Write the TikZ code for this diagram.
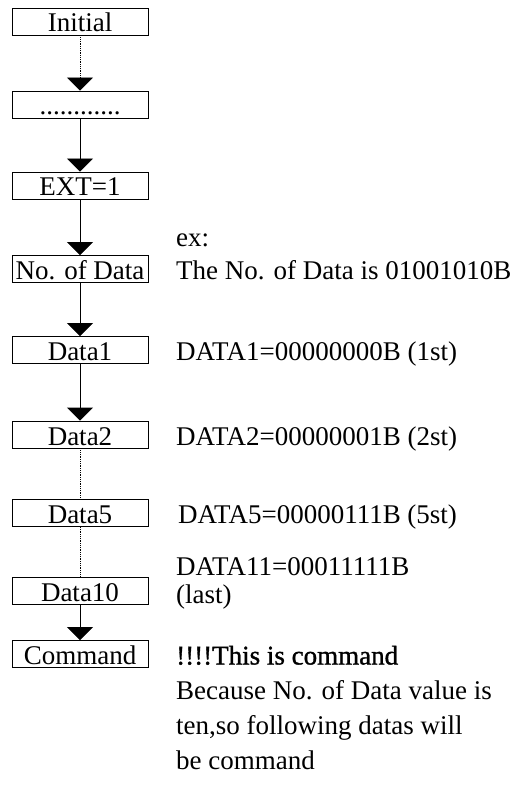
\documentclass[tikz,border=0pt]{standalone}
\usepackage{fontspec}
\setmainfont{Liberation Serif}
\newfontfamily\heavyserif[FakeBold=1.2]{Liberation Serif}
\usetikzlibrary{arrows}
\usetikzlibrary{arrows.meta}

\newcommand{\dotrow}{............}

\begin{document}
\begin{tikzpicture}[x=1pt,y=-1pt,
  box/.style={draw,line width=0.8pt,minimum width=136pt,minimum height=27pt,
    inner sep=0pt,text height=21pt,text depth=0pt,font=\fontsize{27}{27}\selectfont},
  note/.style={anchor=base west,inner sep=0pt,font=\fontsize{27}{27}\selectfont},
  flow/.style={line width=0.8pt,-{Triangle[width=26pt,length=13pt]}},
  gap/.style={line width=0.8pt,densely dotted}]
\useasboundingbox (0,0) rectangle (512,799);

\foreach \name/\y/\txt in {init/21.5/Initial, dots/104.5/\dotrow, ext/185.5/EXT=1,
    num/269/No. of Data, data1/350/Data1, data2/434.5/Data2, data5/513/Data5,
    data10/591/Data10, cmd/654/Command}
  \node[box] (\name) at (80,\y) {\txt};

\draw[flow,densely dotted] (init) -- (dots);
\foreach \a/\b in {dots/ext, ext/num, num/data1, data1/data2, data10/cmd}
  \draw[flow] (\a) -- (\b);
\draw[gap] (data2) -- (data5);
\draw[gap] (data5) -- (data10);

\node[note] (ex) at (176,247) {ex:};
\node[note] (exnum) at (176,279.5) {The No. of Data is 01001010B};
\node[note] (d1) at (176,360.5) {DATA1=00000000B (1st)};
\node[note] (d2) at (176,445) {DATA2=00000001B (2st)};
\node[note] (d5) at (178,523.5) {DATA5=00000111B (5st)};
\node[note] (d11) at (176,575) {DATA11=00011111B};
\node[note] (last) at (176,603) {(last)};
\node[note,font=\fontsize{27}{27}\heavyserif] (warn) at (176,664.5) {!!!!This is command};
\node[note] (why1) at (176,699) {Because No. of Data value is};
\node[note] (why2) at (176,734) {ten,so following datas will};
\node[note] (why3) at (176,769) {be command};
\end{tikzpicture}
\end{document}
